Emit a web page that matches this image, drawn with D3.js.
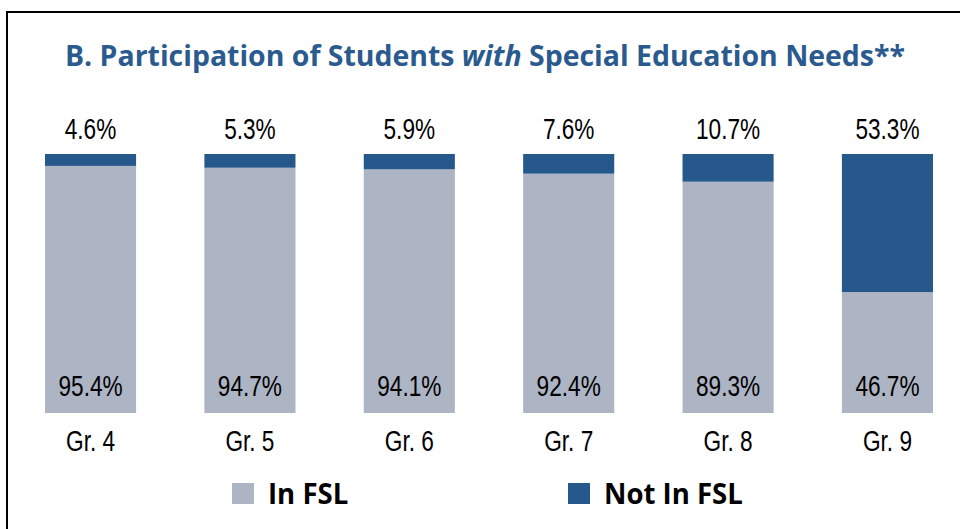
<!DOCTYPE html>
<html>
<head>
<meta charset="utf-8">
<script src="https://cdn.jsdelivr.net/npm/d3@7"></script>
<style>
  body { margin: 0; background: #fff; }
  svg { display: block; }
</style>
</head>
<body>
<div id="chart"></div>
<script>
var grades = ['Gr. 4', 'Gr. 5', 'Gr. 6', 'Gr. 7', 'Gr. 8', 'Gr. 9'];
var inFSL = [95.4, 94.7, 94.1, 92.4, 89.3, 46.7];
var notInFSL = [4.6, 5.3, 5.9, 7.6, 10.7, 53.3];
var seriesNames = ['In FSL', 'Not In FSL'];
var colors = ['#adb4c4', '#27588b'];

var width = 960, height = 529;
var labelFont = '"Liberation Sans", Arial, sans-serif';
var boldFont = '"Open Sans", "Noto Sans", sans-serif';

var svg = d3.select('#chart').append('svg')
    .attr('width', width)
    .attr('height', height);

// squeeze a text horizontally to mimic a condensed face
function condense(sel, k) {
    sel.each(function() {
        var len = this.getComputedTextLength();
        d3.select(this)
            .attr('textLength', len * k)
            .attr('lengthAdjust', 'spacingAndGlyphs');
    });
}

// frame (only top and left edges are visible in the crop)
svg.append('path')
    .attr('d', 'M7,' + height + 'V12H' + width)
    .attr('fill', 'none')
    .attr('stroke', '#000')
    .attr('stroke-width', 2);

// title
var title = svg.append('text')
    .attr('x', 485)
    .attr('y', 66)
    .attr('text-anchor', 'middle')
    .attr('fill', '#2a5a8e')
    .style('font-family', boldFont)
    .style('font-weight', 'bold')
    .style('font-size', '28px');
title.append('tspan').text('B. Participation of Students ');
title.append('tspan').style('font-style', 'italic').text('with');
title.append('tspan').text(' Special Education Needs**');
title.attr('textLength', 840).attr('lengthAdjust', 'spacingAndGlyphs');

var x = d3.scaleBand()
    .domain(grades)
    .range([45, 933])
    .paddingInner(0.4285)
    .paddingOuter(0);

var y = d3.scaleLinear()
    .domain([0, 100])
    .range([413, 154]);

var rows = grades.map((g, i) => ({grade: g, inFSL: inFSL[i], notInFSL: notInFSL[i]}));
var stack = d3.stack().keys(['inFSL', 'notInFSL'])(rows);

svg.selectAll('.series')
    .data(stack)
    .enter().append('g')
    .attr('class', 'series')
    .attr('fill', (d, i) => colors[i])
    .selectAll('rect')
    .data(d => d)
    .enter().append('rect')
    .attr('x', d => x(d.data.grade))
    .attr('width', x.bandwidth())
    .attr('y', d => y(d[1]))
    .attr('height', d => y(d[0]) - y(d[1]));

// top labels (Not In FSL)
svg.selectAll('.top-label')
    .data(rows)
    .enter().append('text')
    .attr('class', 'top-label')
    .attr('x', d => x(d.grade) + x.bandwidth() / 2)
    .attr('y', y(100) - 15)
    .attr('text-anchor', 'middle')
    .style('font-family', labelFont)
    .style('font-size', '29px')
    .text(d => d.notInFSL.toFixed(1) + '%')
    .call(condense, 0.78);

// bottom labels (In FSL)
svg.selectAll('.bottom-label')
    .data(rows)
    .enter().append('text')
    .attr('class', 'bottom-label')
    .attr('x', d => x(d.grade) + x.bandwidth() / 2)
    .attr('y', y(0) - 17)
    .attr('text-anchor', 'middle')
    .style('font-family', labelFont)
    .style('font-size', '29px')
    .text(d => d.inFSL.toFixed(1) + '%')
    .call(condense, 0.78);

// category axis
var xAxis = svg.append('g')
    .attr('transform', 'translate(0,' + y(0) + ')')
    .call(d3.axisBottom(x).tickSize(0).tickPadding(17));
xAxis.select('.domain').remove();
xAxis.selectAll('text')
    .attr('fill', '#000')
    .style('font-family', labelFont)
    .style('font-size', '29px')
    .call(condense, 0.78);

// legend
var legendX = [232, 568];
var legend = svg.selectAll('.legend')
    .data(seriesNames)
    .enter().append('g')
    .attr('class', 'legend')
    .attr('transform', (d, i) => 'translate(' + legendX[i] + ',483)');
legend.append('rect')
    .attr('width', 22)
    .attr('height', 21)
    .attr('fill', (d, i) => colors[i]);
legend.append('text')
    .attr('x', 36)
    .attr('y', 21)
    .style('font-family', boldFont)
    .style('font-weight', 'bold')
    .style('font-size', '29px')
    .text(d => d)
    .call(condense, 0.95);
</script>
</body>
</html>
